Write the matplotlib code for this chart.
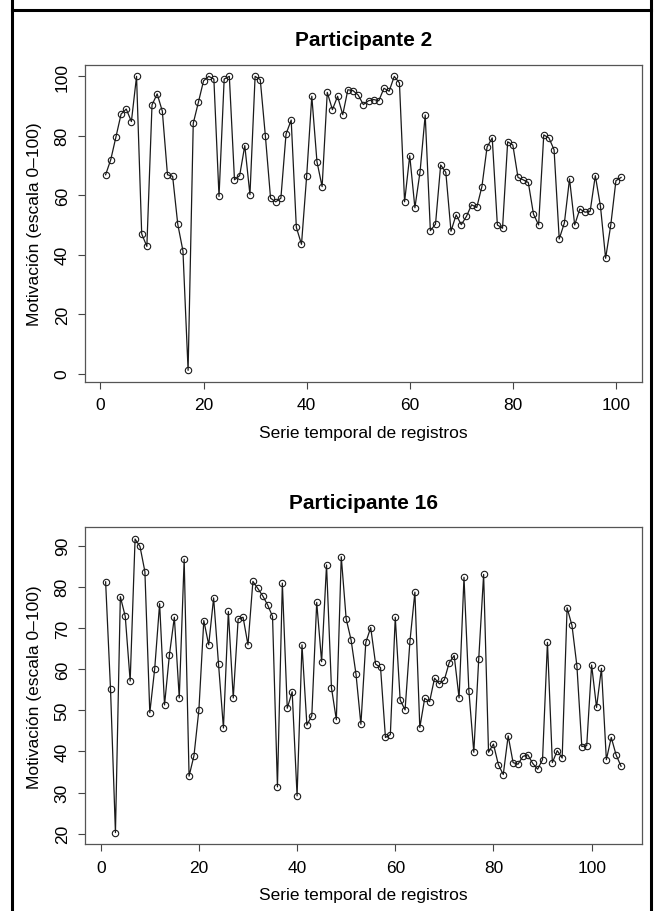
import matplotlib

matplotlib.use("Agg")
import matplotlib.pyplot as plt
from matplotlib.lines import Line2D

WIDTH_PX, HEIGHT_PX, DPI = 656, 912, 100

# valores (motivacion, escala 0-100)
participante_2 = [
    66.9, 72.0, 79.6, 87.3, 89.0, 84.8, 100, 47.0, 42.8, 90.4,
    94.1, 88.3, 66.9, 66.4, 50.2, 41.3, 1.1, 84.2, 91.3, 98.5,
    100, 99.1, 59.6, 99.1, 100, 65.2, 66.6, 76.7, 60.2, 100,
    98.9, 79.8, 59.0, 57.8, 59.0, 80.6, 85.3, 49.2, 43.5, 66.4,
    93.3, 71.3, 62.9, 94.6, 88.8, 93.3, 87.1, 95.5, 95.2, 93.7,
    90.5, 91.8, 92.2, 91.8, 96.0, 95.0, 100, 97.8, 57.8, 73.3,
    55.8, 67.9, 87.0, 48.1, 50.3, 70.2, 67.7, 47.9, 53.4, 50.1,
    52.9, 56.8, 55.9, 62.9, 76.2, 79.3, 50.0, 48.9, 78.0, 76.9,
    66.0, 65.2, 64.3, 53.7, 50.0, 80.3, 79.3, 75.3, 45.3, 50.7,
    65.5, 50.0, 55.4, 54.3, 54.6, 66.6, 56.3, 38.8, 50.0, 64.9,
    66.0,
]
participante_16 = [
    81.2, 55.1, 20.3, 77.6, 72.8, 57.1, 91.6, 89.8, 83.7, 49.4,
    60.1, 75.9, 51.3, 63.5, 72.6, 53.0, 86.7, 34.0, 39.0, 50.1,
    71.8, 65.9, 77.3, 61.2, 45.7, 74.0, 53.0, 72.2, 72.6, 65.9,
    81.3, 79.6, 77.8, 75.6, 72.8, 31.4, 80.9, 50.5, 54.5, 29.2,
    65.9, 46.4, 48.7, 76.2, 61.8, 85.3, 55.5, 47.7, 87.3, 72.2,
    67.1, 58.8, 46.6, 66.5, 70.1, 61.2, 60.4, 43.4, 44.1, 72.6,
    52.5, 50.1, 66.9, 78.7, 45.8, 52.9, 52.1, 57.8, 56.4, 57.4,
    61.6, 63.3, 53.0, 82.3, 54.7, 39.8, 62.4, 83.0, 39.8, 41.8,
    36.8, 34.4, 43.8, 37.3, 36.9, 38.8, 39.2, 37.1, 35.7, 38.0,
    66.5, 37.3, 40.2, 38.4, 74.9, 70.6, 60.8, 41.2, 41.4, 61.0,
    50.7, 60.2, 38.0, 43.4, 39.1, 36.4,
]
x_ticks = [0, 20, 40, 60, 80, 100]
y_ticks_2 = [0, 20, 40, 60, 80, 100]
y_ticks_16 = [20, 30, 40, 50, 60, 70, 80, 90]
titles = ["Participante 2", "Participante 16"]
x_label = "Serie temporal de registros"
y_label = "Motivación (escala 0–100)"

plt.rcParams["font.family"] = ["Liberation Sans", "DejaVu Sans"]
plt.rcParams["font.size"] = 12.5


def px_rect(left, top, right, bottom):
    """Axes rect in figure fractions from pixel edges (origin top-left)."""
    return [
        left / WIDTH_PX,
        1 - bottom / HEIGHT_PX,
        (right - left) / WIDTH_PX,
        (bottom - top) / HEIGHT_PX,
    ]


def draw_panel(fig, rect, values, y_ticks, title):
    ax = fig.add_axes(rect)
    index = list(range(1, len(values) + 1))
    ax.plot(
        index, values, color="#1a1a1a", lw=0.9,
        marker="o", ms=4.6, mfc="none", mec="#1a1a1a", mew=0.8,
    )
    ax.margins(x=0.04, y=0.04)
    ax.set_xticks(x_ticks)
    ax.set_yticks(y_ticks)
    ax.tick_params(length=5, width=0.8, color="#444444", pad=6)
    ax.tick_params(axis="y", labelrotation=90)
    for label in ax.get_yticklabels():
        label.set_va("center")
    for spine in ax.spines.values():
        spine.set_color("#555555")
        spine.set_linewidth(0.9)
    ax.set_xlabel(x_label, labelpad=9)
    ax.set_ylabel(y_label, labelpad=9)
    ax.set_title(title, fontsize=15, fontweight="bold", pad=14)
    return ax


def main() -> None:
    fig = plt.figure(figsize=(WIDTH_PX / DPI, HEIGHT_PX / DPI), dpi=DPI)
    draw_panel(fig, px_rect(85, 65.6, 641.7, 383.1), participante_2, y_ticks_2, titles[0])
    draw_panel(fig, px_rect(85, 528.3, 641.7, 845.3), participante_16, y_ticks_16, titles[1])

    # marco negro de la figura
    for x in (12 / WIDTH_PX, 651 / WIDTH_PX):
        fig.add_artist(Line2D([x, x], [0, 1], color="black", lw=2.2, transform=fig.transFigure))
    y_top = 1 - 11 / HEIGHT_PX
    fig.add_artist(
        Line2D([12 / WIDTH_PX, 651 / WIDTH_PX], [y_top, y_top], color="black", lw=2.2,
               transform=fig.transFigure)
    )
    fig.savefig("out.png", dpi=DPI)
    plt.close(fig)


if __name__ == "__main__":
    main()
